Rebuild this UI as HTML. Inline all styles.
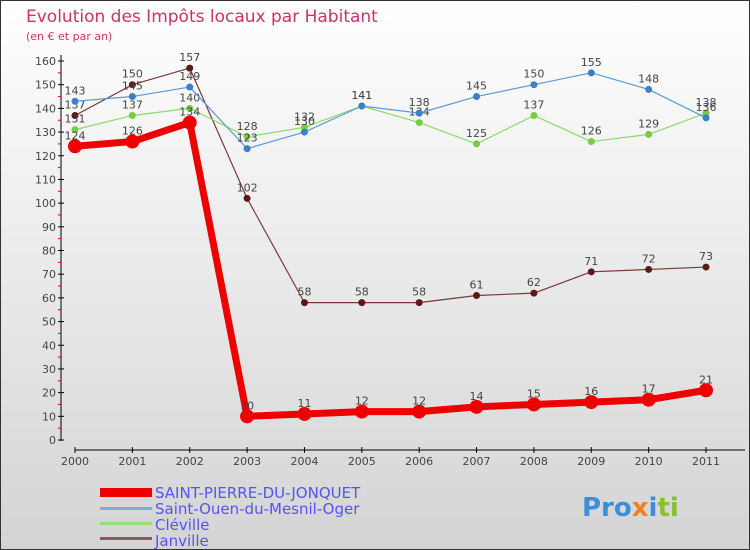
<!DOCTYPE html>
<html><head><meta charset="utf-8"><style>
html,body{margin:0;padding:0}
body{width:750px;height:550px;overflow:hidden;font-family:"DejaVu Sans","Liberation Sans",sans-serif}
#frame{position:absolute;left:0;top:0;width:748px;height:548px;border:1px solid #333;background:linear-gradient(#ffffff,#d4d4d4)}
</style></head><body>
<div id="frame">
<svg width="750" height="550" style="position:absolute;left:-1px;top:-1px" font-family="DejaVu Sans, Liberation Sans, sans-serif">
<text x="26" y="22" font-size="17" fill="#d0306a">Evolution des Impôts locaux par Habitant</text>
<text x="26" y="40" font-size="11" fill="#d0306a">(en € et par an)</text>
<g id="axes"></g>
<g id="series"></g>
<g id="legend" font-size="15" fill="#5555ee">
<rect x="100" y="488" width="52" height="9" fill="#ee0000"/>
<text x="155" y="498">SAINT-PIERRE-DU-JONQUET</text>
<rect x="100" y="507" width="52" height="3" fill="#7aaed8"/>
<text x="155" y="514">Saint-Ouen-du-Mesnil-Oger</text>
<rect x="100" y="522" width="52" height="3" fill="#99dd77"/>
<text x="155" y="530">Cléville</text>
<rect x="100" y="537" width="52" height="3" fill="#8a5a5a"/>
<text x="155" y="546">Janville</text>
</g>
<text x="582" y="516" font-size="26" font-weight="bold"><tspan fill="#3a8fd8">Pro</tspan><tspan fill="#f08020">x</tspan><tspan fill="#3a8fd8">i</tspan><tspan fill="#88c030">ti</tspan></text>
</svg>
</div>
<script>
const years=["2000","2001","2002","2003","2004","2005","2006","2007","2008","2009","2010","2011"];
const yTicks=[0,10,20,30,40,50,60,70,80,90,100,110,120,130,140,150,160];
const spj=[124,126,134,10,11,12,12,14,15,16,17,21];
const somo=[143,145,149,123,130,141,138,145,150,155,148,136];
const cleville=[131,137,140,128,132,141,134,125,137,126,129,138];
const janville=[137,150,157,102,58,58,58,61,62,71,72,73];
const NS="http://www.w3.org/2000/svg";
const X=i=>75+i*(706-75)/11;
const Y=v=>440-v*(440-61)/160;
function mk(t,a,p){const e=document.createElementNS(NS,t);for(const k in a)e.setAttribute(k,a[k]);p.appendChild(e);return e;}
const ax=document.getElementById('axes');
let l=mk('line',{x1:61,y1:55,x2:61,y2:441,stroke:'#000'},ax);


l=mk('line',{x1:75,y1:450,x2:745,y2:450,stroke:'#000'},ax);


yTicks.forEach(v=>{
 mk('line',{x1:58,x2:64,y1:Y(v),y2:Y(v),stroke:'#000'},ax);
 if(v<160)mk('line',{x1:58,x2:61,y1:Y(v+5),y2:Y(v+5),stroke:'#e00'},ax);
 const t=mk('text',{x:56,y:Y(v)+4,'text-anchor':'end','font-size':11,fill:'#444'},ax);
 t.textContent=v;
 
 
});
years.forEach((y,i)=>{
 mk('line',{x1:X(i),x2:X(i),y1:447,y2:453,stroke:'#000'},ax);
 const t=mk('text',{x:X(i),y:465,'text-anchor':'middle','font-size':11,fill:'#444'},ax);
 t.textContent=y;
 
 
});
const sg=document.getElementById('series');
function series(d,name,col,w,r,dot){
 const g=mk('g',{},sg);
 
 
 const p=mk('polyline',{points:d.map((v,i)=>X(i)+','+Y(v)).join(' '),fill:'none',stroke:col,'stroke-width':w,'stroke-linejoin':'round'},g);
 
 
 d.forEach((v,i)=>{
  const c=mk('circle',{cx:X(i),cy:Y(v),r:r,fill:dot},g);
  
  
  const t=mk('text',{x:X(i),y:Y(v)-7,'text-anchor':'middle','font-size':11,fill:'#444'},g);
  t.textContent=v;
  
  
 });
}
series(janville,'janville','#7a3838',1.2,3.5,'#5a1818');
series(cleville,'cleville','#88dd66',1.2,3.5,'#77cc44');
series(somo,'saint-ouen','#5a9ad8',1.2,3.5,'#3a80c8');
series(spj,'saint-pierre','#ee0000',7,7,'#ee0000');
</script>
</body></html>
